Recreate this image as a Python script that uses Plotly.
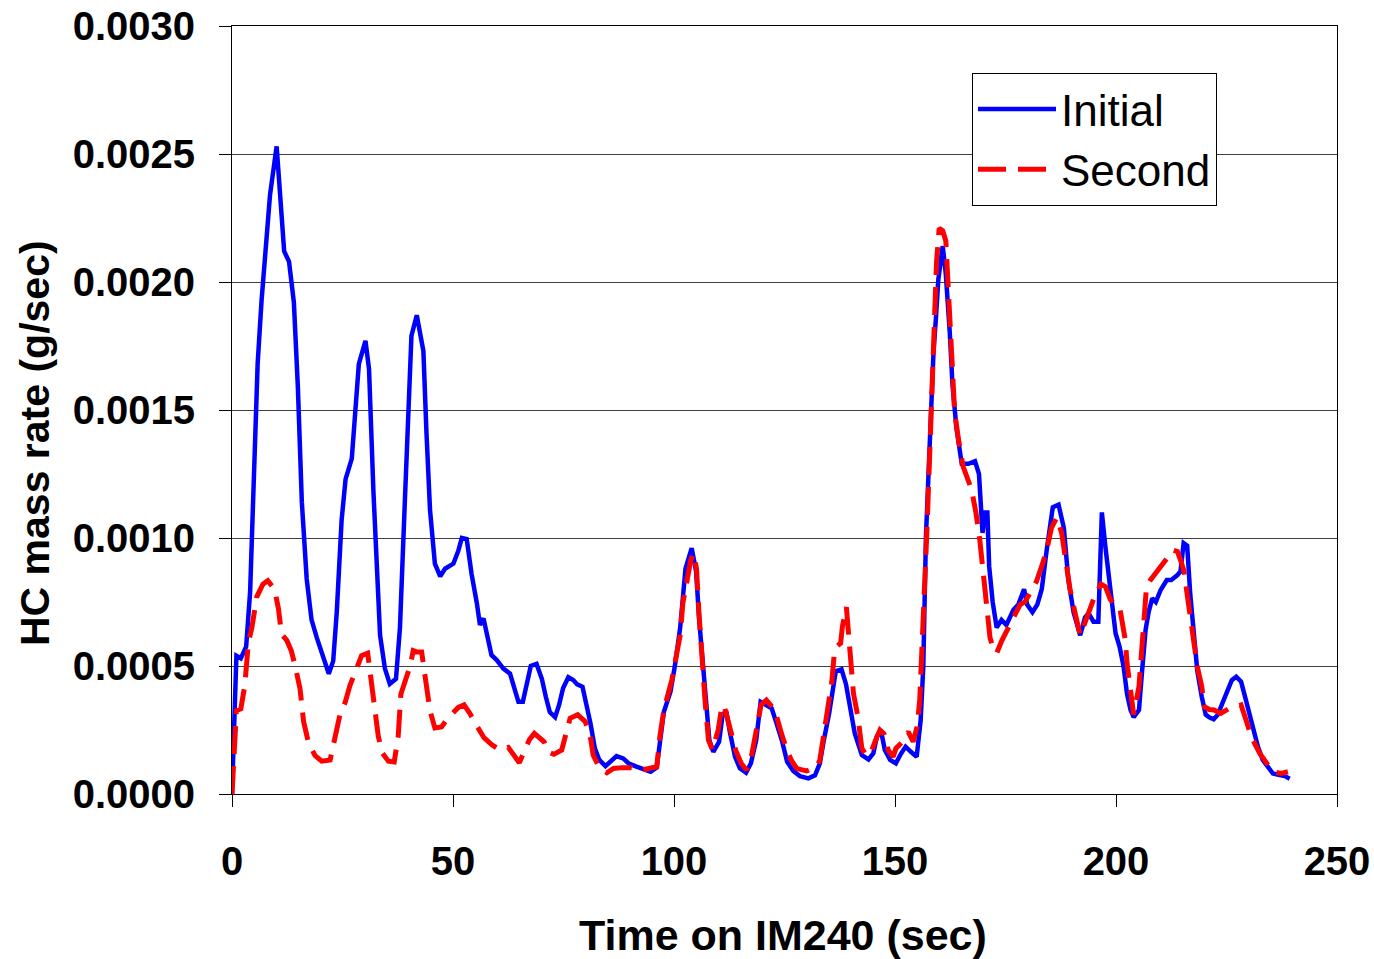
import plotly.graph_objects as go

# ---- Data ----
t_initial = [0, 1.0, 2.0, 3.2, 4.1, 4.8, 5.8, 6.7, 7.7, 8.6, 10.1, 10.9, 11.8, 12.9, 14.0, 14.9,
             15.8, 16.9, 18.0, 19.2, 20.7, 21.9, 22.9, 23.7, 24.8, 25.7, 27.1, 27.8, 28.7, 30.2,
             31.0, 32.0, 33.5, 34.6, 35.7, 37.1, 38.0, 39.1, 39.9, 40.6, 41.8, 43.3, 44.0, 44.8,
             45.9, 47.1, 48.2, 50.1, 51.2, 52.0, 53.1, 54.2, 55.4, 56.1, 56.9, 58.0, 58.7, 59.9,
             61.4, 62.9, 64.0, 64.8, 65.8, 66.8, 67.6, 68.9, 70.1, 71.0, 71.9, 73.1, 74.0, 74.9,
             76.1, 77.2, 78.1, 79.3, 80.2, 81.1, 82.1, 83.1, 84.5, 85.7, 87.0, 88.5, 89.7, 91.5,
             93.1, 94.7, 96.1, 97.0, 97.7, 99.2, 100.2, 101.4, 102.6, 104.0, 105.0, 105.7, 106.5,
             107.4, 108.0, 108.9, 110.2, 111.0, 111.8, 112.7, 113.8, 114.9, 116.3, 117.4, 118.6,
             119.6, 121.0, 122.1, 123.2, 124.4, 125.6, 127.0, 128.5, 130.4, 131.9, 133.0, 133.9,
             135.1, 136.6, 137.9, 138.9, 139.8, 140.9, 142.5, 144.0, 145.1, 145.9, 146.8, 147.7,
             148.9, 150.2, 151.3, 152.4, 153.6, 154.9, 155.8, 156.4, 157.0, 157.8, 158.7, 159.3,
             159.8, 160.8, 161.5, 162.4, 163.0, 163.9, 165.1, 166.6, 168.1, 169.0, 169.8, 170.4,
             170.9, 171.3, 172.1, 173.0, 174.1, 175.2, 176.8, 177.9, 179.2, 179.9, 181.1, 182.2,
             183.2, 184.3, 185.7, 187.0, 188.2, 189.2, 190.4, 191.9, 193.0, 193.8, 194.9, 196.0,
             196.8, 197.6, 198.4, 199.1, 199.9, 200.8, 201.7, 202.5, 203.3, 204.0, 205.2, 205.9,
             206.7, 207.4, 208.2, 209.0, 210.1, 211.5, 212.5, 213.9, 214.6, 215.3, 216.1, 216.8,
             217.5, 218.4, 219.4, 220.3, 221.1, 222.1, 223.0, 224.1, 225.3, 226.2, 227.2, 228.3,
             229.1, 230.2, 231.3, 232.1, 233.2, 234.4, 235.5, 237.0, 238.2, 239.3]
hc_initial = [0, 0.00054, 0.00053, 0.000575, 0.00079, 0.00121, 0.00168, 0.00193, 0.00217, 0.00234,
              0.00253, 0.00234, 0.00212, 0.00208, 0.00192, 0.00159, 0.00114, 0.00084, 0.00068,
              0.00061, 0.00053, 0.00047, 0.00052, 0.00071, 0.00107, 0.00123, 0.00131, 0.0015,
              0.00168, 0.00177, 0.00166, 0.00118, 0.00062, 0.00049, 0.00043, 0.00045, 0.00065,
              0.00114, 0.0015, 0.00179, 0.00187, 0.00173, 0.00141, 0.00111, 0.0009, 0.00085,
              0.00088, 0.0009, 0.00095, 0.001, 0.000996, 0.00086, 0.000745, 0.00066, 0.000686,
              0.0006, 0.000543, 0.000523, 0.00049, 0.00047, 0.000406, 0.00036, 0.00036, 0.00043,
              0.0005, 0.000508, 0.00045, 0.00038, 0.00032, 0.0003, 0.000348, 0.000413, 0.000456,
              0.000445, 0.000428, 0.000419, 0.000354, 0.000276, 0.000178, 0.000133, 0.000109,
              0.000126, 0.000148, 0.000139, 0.00012, 0.000107, 0.000096, 0.000087, 0.000104,
              0.00021, 0.00032, 0.0004, 0.0005, 0.00065, 0.00088, 0.00096, 0.00087, 0.00068,
              0.0005, 0.000315, 0.00021, 0.000165, 0.000204, 0.00031, 0.000325, 0.000237,
              0.000146, 0.0001, 0.000083, 0.00012, 0.00021, 0.00036, 0.000348, 0.000335,
              0.000276, 0.00021, 0.000126, 0.00009, 0.00007, 0.000061, 0.000073, 0.00012,
              0.00021, 0.000315, 0.00048, 0.000487, 0.00043, 0.00034, 0.000237, 0.000152,
              0.000135, 0.000159, 0.000224, 0.00025, 0.000172, 0.000133, 0.00012, 0.000156,
              0.000185, 0.000165, 0.000145, 0.000287, 0.000497, 0.001006, 0.0014, 0.00172,
              0.00187, 0.00201, 0.00214, 0.00203, 0.0018, 0.0016, 0.00143, 0.00129, 0.00129,
              0.0013, 0.00125, 0.00102, 0.0011, 0.0011, 0.00089, 0.00075, 0.00065, 0.00068,
              0.00066, 0.00072, 0.00074, 0.0008, 0.00074, 0.00071, 0.00074, 0.0008, 0.00095,
              0.00112, 0.00113, 0.00104, 0.00084, 0.00071, 0.00062, 0.00069, 0.000706, 0.000673,
              0.000673, 0.0011, 0.000966, 0.00085, 0.00072, 0.000628, 0.000576, 0.0005, 0.00039,
              0.000328, 0.0003, 0.000328, 0.00048, 0.000641, 0.000712, 0.000764, 0.00075,
              0.000797, 0.000836, 0.000836, 0.000855, 0.00087, 0.00098, 0.00097, 0.00078,
              0.00064, 0.00048, 0.00038, 0.00031, 0.0003, 0.000292, 0.000309, 0.000355, 0.0004,
              0.000445, 0.000458, 0.000439, 0.000386, 0.000315, 0.000243, 0.000185, 0.000133,
              0.000107, 0.00008, 0.000074, 0.00007, 0.00006]

t_second = [0, 0.5, 1.0, 2.0, 2.9, 3.7, 4.5, 5.6, 7.0, 8.1, 9.6, 10.5, 11.2, 12.4, 13.4, 14.3,
            15.4, 16.2, 17.3, 18.8, 20.3, 22.2, 23.3, 24.4, 25.6, 26.7, 28.2, 29.3, 30.7, 31.6,
            32.3, 33.1, 34.0, 35.4, 36.7, 37.6, 38.2, 39.1, 40.3, 41.0, 41.8, 42.9, 44.0, 44.8,
            45.9, 47.4, 49.0, 51.2, 52.5, 53.8, 55.5, 57.0, 58.8, 60.6, 62.5, 63.5, 65.0, 66.2,
            67.3, 68.4, 69.7, 70.6, 71.4, 72.8, 74.6, 75.3, 76.5, 78.2, 79.9, 80.6, 81.2, 81.7,
            83.2, 84.8, 86.3, 88.2, 90.4, 92.1, 94.2, 96.1, 96.8, 97.7, 99.5, 100.6, 101.4, 102.0,
            102.9, 103.8, 104.4, 105.1, 105.6, 106.3, 107.0, 107.8, 108.7, 110.0, 110.8, 111.3,
            112.6, 114.0, 115.2, 116.4, 117.5, 118.6, 119.7, 120.9, 122.8, 124.3, 125.4, 126.6,
            127.8, 130.0, 132.3, 133.0, 133.9, 134.9, 135.7, 136.2, 136.8, 137.7, 138.1, 139.0,
            139.9, 140.6, 141.6, 142.5, 143.5, 144.5, 145.6, 146.6, 147.5, 148.5, 149.6, 150.2,
            151.5, 153.0, 154.1, 155.0, 155.6, 156.3, 157.2, 157.9, 158.8, 159.4, 160.0, 160.8,
            161.5, 162.3, 162.8, 163.5, 164.5, 165.4, 167.3, 168.3, 169.2, 170.1, 170.9, 171.5,
            172.2, 173.0, 174.2, 175.4, 176.8, 178.3, 179.4, 180.7, 182.0, 183.2, 184.3, 185.4,
            186.6, 187.7, 188.8, 189.6, 190.7, 191.9, 193.0, 194.9, 196.6, 197.6, 198.7, 199.8,
            200.8, 201.6, 202.1, 202.5, 203.3, 204.0, 205.2, 205.7, 206.3, 206.9, 207.8, 208.7,
            210.3, 211.8, 212.8, 213.9, 214.6, 215.4, 216.1, 217.3, 218.4, 219.4, 220.0, 221.1,
            222.2, 223.7, 225.6, 227.0, 228.3, 229.4, 230.6, 232.5, 234.0, 235.5, 237.4, 238.9]
hc_second = [0, 0.000225, 0.000325, 0.000333, 0.000425, 0.00059, 0.00065, 0.00077, 0.00082,
             0.000833, 0.0008, 0.000725, 0.000625, 0.0006, 0.00056, 0.0005, 0.00041, 0.000283,
             0.0002, 0.00015, 0.000128, 0.000133, 0.000225, 0.000308, 0.000358, 0.000425,
             0.00049, 0.00054, 0.00055, 0.00044, 0.00033, 0.000225, 0.00016, 0.000128, 0.000125,
             0.000225, 0.00039, 0.00044, 0.0005, 0.00056, 0.000555, 0.000555, 0.000425, 0.000325,
             0.000258, 0.000262, 0.0003, 0.000338, 0.000348, 0.000315, 0.000263, 0.00022,
             0.000192, 0.000172, 0.000182, 0.000159, 0.000122, 0.00017, 0.000213, 0.000237,
             0.000221, 0.000204, 0.000165, 0.000155, 0.000172, 0.000213, 0.000296, 0.00031,
             0.000283, 0.00025, 0.000211, 0.000152, 0.0001, 0.000083, 0.0001, 0.000103, 0.000103,
             0.000091, 0.0001, 0.000107, 0.000224, 0.000328, 0.000445, 0.00055, 0.00062,
             0.000745, 0.00083, 0.000914, 0.00094, 0.00088, 0.00072, 0.000523, 0.00037, 0.00021,
             0.000172, 0.00025, 0.00034, 0.000348, 0.000263, 0.000169, 0.00012, 0.000094,
             0.000146, 0.000237, 0.000348, 0.000367, 0.000328, 0.000237, 0.000178, 0.00013,
             0.000099, 0.00009, 0.000107, 0.000133, 0.000237, 0.00034, 0.000438, 0.000536,
             0.000576, 0.000589, 0.000654, 0.00073, 0.00051, 0.000393, 0.000302, 0.000178,
             0.00015, 0.00016, 0.00021, 0.00025, 0.000235, 0.00017, 0.000146, 0.000178, 0.0002,
             0.000243, 0.000204, 0.000263, 0.000367, 0.00063, 0.00102, 0.00135, 0.00172, 0.00208,
             0.00221, 0.0022, 0.00216, 0.0019, 0.0017, 0.00149, 0.00137, 0.00128, 0.00119,
             0.0011, 0.00099, 0.00083, 0.00071, 0.00061, 0.00057, 0.00055, 0.0006, 0.00064,
             0.00069, 0.00074, 0.00075, 0.00079, 0.00083, 0.00089, 0.00095, 0.00104, 0.00108,
             0.00102, 0.00089, 0.0008, 0.00071, 0.00062, 0.00067, 0.00076, 0.00082, 0.00081,
             0.00076, 0.00074, 0.000732, 0.000654, 0.000602, 0.00051, 0.000393, 0.00031,
             0.00042, 0.00055, 0.00072, 0.00081, 0.000836, 0.000855, 0.00089, 0.000927,
             0.000953, 0.000947, 0.000914, 0.00087, 0.00078, 0.00064, 0.000497, 0.00042,
             0.000341, 0.00033, 0.000328, 0.000315, 0.000334, 0.00034, 0.000348, 0.00029,
             0.000224, 0.000159, 0.00012, 0.000087, 0.00008, 0.000087]

x_ticks = [0, 50, 100, 150, 200, 250]
y_ticks = [0.0, 0.0005, 0.0010, 0.0015, 0.0020, 0.0025, 0.0030]
series_names = ["Initial", "Second"]
x_title = "Time on IM240 (sec)"
y_title = "HC mass rate (g/sec)"

FONT = "Liberation Sans, Arial, sans-serif"
W, H = 1374, 959
ML, MR, MT, MB = 232, 37, 26, 165

fig = go.Figure()
fig.add_trace(go.Scatter(x=t_initial, y=hc_initial, mode="lines", name=series_names[0],
                         line=dict(color="#0000FF", width=4.5)))
fig.add_trace(go.Scatter(x=t_second, y=hc_second, mode="lines", name=series_names[1],
                         line=dict(color="#FF0000", width=5, dash="28px,12px")))

pw = W - ML - MR
ph = H - MT - MB

fig.update_layout(
    width=W, height=H,
    margin=dict(l=ML, r=MR, t=MT, b=MB, autoexpand=False),
    paper_bgcolor="white", plot_bgcolor="white",
    font=dict(family=FONT, color="black"),
    showlegend=True,
    legend=dict(x=(972 - ML) / pw, y=1 - (73 - MT) / ph, xanchor="left", yanchor="top",
                bgcolor="white", bordercolor="black", borderwidth=1,
                font=dict(family=FONT, size=44, color="black"),
                itemwidth=78, tracegroupgap=0),
    xaxis=dict(range=[0, 250], tickvals=x_ticks, ticktext=[str(v) for v in x_ticks],
               showgrid=False, zeroline=False, showline=True, linecolor="black", linewidth=1,
               mirror=True, ticks="outside", ticklen=12, tickcolor="black",
               tickfont=dict(family=FONT, size=40, color="black", weight="bold"),
               ticklabelstandoff=20, automargin=False),
    yaxis=dict(range=[0, 0.003], tickvals=y_ticks, ticktext=[f"{v:.4f}" for v in y_ticks],
               showgrid=True, gridcolor="#404040", gridwidth=1,
               zeroline=False, showline=True, linecolor="black", linewidth=1,
               mirror=True, ticks="outside", ticklen=12, tickcolor="black",
               tickfont=dict(family=FONT, size=40, color="black", weight="bold"),
               ticklabelstandoff=16, automargin=False),
    annotations=[
        dict(text="<b>" + x_title + "</b>", xref="paper", yref="paper",
             x=(783 - ML) / pw, y=-(935 - (H - MB)) / ph, xanchor="center", yanchor="middle",
             showarrow=False, font=dict(family=FONT, size=43, color="black")),
        dict(text="<b>" + y_title + "</b>", xref="paper", yref="paper",
             x=-(ML - 35) / pw, y=1 - (443 - MT) / ph, xanchor="center", yanchor="middle",
             textangle=-90, showarrow=False, font=dict(family=FONT, size=41, color="black")),
    ],
)

fig.write_html("out.html")
